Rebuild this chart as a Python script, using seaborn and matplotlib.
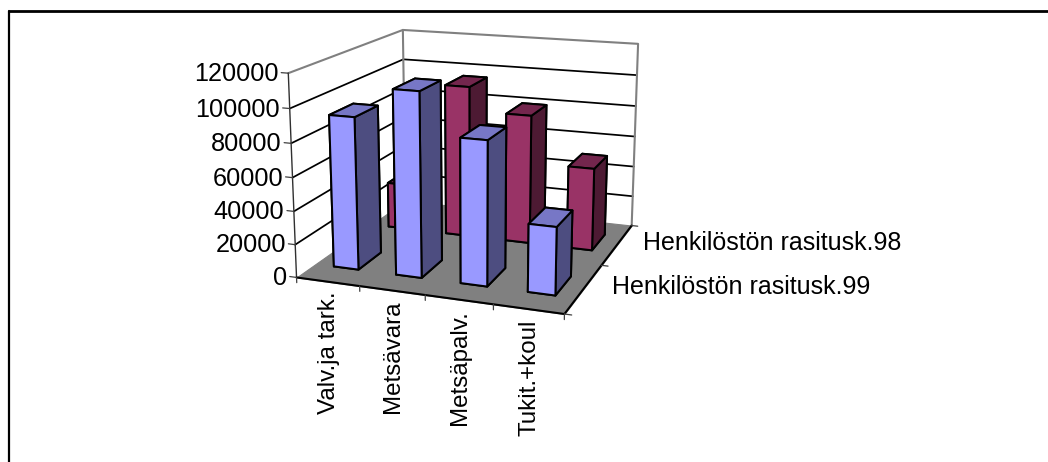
import numpy as np
import matplotlib
matplotlib.use("Agg")
import matplotlib.pyplot as plt
import seaborn as sns
from matplotlib.lines import Line2D
from matplotlib.transforms import Affine2D
from mpl_toolkits.mplot3d import proj3d
from mpl_toolkits.mplot3d.art3d import Poly3DCollection

# Staff load per activity, two years
categories = ["Valv.ja tark.", "Metsävara", "Metsäpalv.", "Tukit.+koul"]
series_names = ["Henkilöstön rasitusk.99", "Henkilöstön rasitusk.98"]
values_99 = [92000, 110000, 85500, 40000]
values_98 = [29500, 96700, 81700, 52000]
z_ticks = [0, 20000, 40000, 60000, 80000, 100000, 120000]

# (front, top, side) face colours of each series
blue_faces = ("#9999FF", "#7777C6", "#4D4D80")
wine_faces = ("#993366", "#73264D", "#4D1A33")

sns.set_theme(style="white", rc={"axes.grid": False})
plt.rcParams["font.family"] = ["Liberation Sans", "DejaVu Sans"]

W, H = 1048, 462
fig = plt.figure(figsize=(W / 100, H / 100), dpi=100, facecolor="white")

# Square 3D axes; it runs past the top edge so the box sits where it should
side, left_px, bottom_px = 412.9, 262.4, 367.8
ax = fig.add_axes([left_px / W, (H - bottom_px) / H, side / W, side / H],
                  projection="3d", computed_zorder=False)
ax.patch.set_alpha(0)
ax.set_axis_off()

nx, ny, zmax = len(categories), len(series_names), z_ticks[-1]
ax.set_xlim(0, nx)
ax.set_ylim(0, ny)
ax.set_zlim(0, zmax)
ax.view_init(elev=15, azim=-70)
ax.set_proj_type("persp", focal_length=0.5442)
ax.set_box_aspect((1.0036, 1, 0.7502))

GRAY = "#808080"
INK = "#000000"

# Floor
floor = Poly3DCollection([[(0, 0, 0), (nx, 0, 0), (nx, ny, 0), (0, ny, 0)]],
                         facecolor=GRAY, edgecolor=GRAY, linewidth=0.8, zorder=1)
ax.add_collection3d(floor)

# Gridlines over the left and back walls
for z in z_ticks[1:-1]:
    ax.plot([0, 0, nx], [0, ny, ny], [z, z, z], color=INK, lw=1.25, zorder=2)

# Wall outline
ax.plot([0, 0, nx, nx], [0, ny, ny, ny], [zmax, zmax, zmax, 0], color=GRAY, lw=1.5, zorder=3)
ax.plot([0, 0], [ny, ny], [0, zmax], color=GRAY, lw=1.5, zorder=3)
ax.plot([0, 0], [0, 0], [0, zmax], color="#303030", lw=1.0, zorder=3)

# Floor edges facing the viewer
ax.plot([0, nx, nx], [0, 0, ny], [0, 0, 0], color=INK, lw=1.5, zorder=4)

# Ticks
tick_kw = dict(color="#404040", lw=0.9, zorder=4)
for z in z_ticks:
    ax.plot([-0.11, 0], [0, 0], [z, z], **tick_kw)
for i in range(nx + 1):
    ax.plot([i, i], [0, 0], [-3200, 0], **tick_kw)
for j in range(ny + 1):
    ax.plot([nx, nx + 0.1], [j, j], [0, 0], **tick_kw)

# Bars: back row first, each row left to right
bar_width = 0.4
offset = (1 - bar_width) / 2
rows = [(1, values_98, wine_faces), (0, values_99, blue_faces)]
order = 10
for row, vals, (front, top, side_c) in rows:
    for i, v in enumerate(vals):
        # face order in bar3d: bottom, top, front, back, left, right
        bar = ax.bar3d(i + offset, row + offset, 0, bar_width, bar_width, v,
                       color=[front, top, front, front, side_c, side_c],
                       shade=False, edgecolor=INK, linewidth=1.45)
        bar.set_zorder(order)
        order += 1


def label(x, y, z, s, dx=0, dy=0, **kw):
    """Flat text anchored at a projected 3D point, nudged by (dx, dy) pixels."""
    px, py, _ = proj3d.proj_transform(x, y, z, ax.get_proj())
    tr = ax.transData + Affine2D().translate(dx, dy)
    return ax.text2D(px, py, s, transform=tr, color="black", zorder=40, **kw)


for z in z_ticks:
    label(-0.15, 0, z, f"{z}", dy=-2, ha="right", va="center", fontsize=18.2)
for i, name in enumerate(categories):
    label(i + 0.5, 0, -6000, name, dx=1, rotation=90, ha="center", va="top", fontsize=17.4)
label(nx + 0.38, 0.5, 0, series_names[0], dx=2, dy=5, ha="left", va="center", fontsize=18.0)
label(nx + 0.38, 1.5, 0, series_names[1], dx=2, dy=4, ha="left", va="center", fontsize=18.0)

# Frame lines along the top and left of the chart area
fig.add_artist(Line2D([8.5 / W, 1.0], [1 - 10.5 / H, 1 - 10.5 / H], color="black", lw=2))
fig.add_artist(Line2D([8.5 / W, 8.5 / W], [1 - 10.5 / H, 0], color="black", lw=1.6))

fig.savefig("out.png", dpi=100)
